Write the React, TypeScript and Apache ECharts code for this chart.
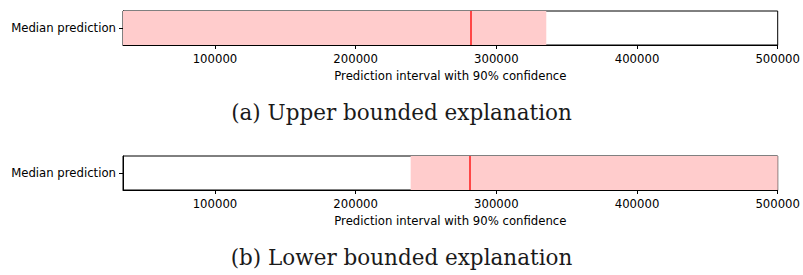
import React, { useEffect, useRef } from "react";
import * as echarts from "echarts";

const categories = ["Median prediction"];
const tickValues = [100000, 200000, 300000, 400000, 500000];
const axisMin = 34600;
const axisMax = 500000;
const axisName = "Prediction interval with 90% confidence";
// Upper bounded explanation: interval [low, high], median
const upperLow = [34600];
const upperHigh = [335500];
const upperMedian = 281500;
// Lower bounded explanation
const lowerLow = [239100];
const lowerHigh = [500000];
const lowerMedian = 281000;
const captions = ["(a) Upper bounded explanation", "(b) Lower bounded explanation"];

const FONT = "DejaVu Sans";
const FS = 11.7;

export default function App() {
  const ref = useRef<HTMLDivElement>(null);
  useEffect(() => {
    if (!ref.current) return;
    const chart = echarts.init(ref.current, null, { renderer: "svg" });
    const grids = [
      { left: 123, right: 24, top: 11, height: 34 },
      { left: 123, right: 24, top: 156, height: 34 },
    ];
    const xAxis = grids.map((_, i) => ({
      type: "value",
      gridIndex: i,
      min: axisMin,
      max: axisMax,
      name: axisName,
      nameLocation: "middle",
      nameGap: 25,
      nameTextStyle: { fontFamily: FONT, fontSize: FS, color: "#000" },
      axisLine: { show: true, onZero: false, lineStyle: { color: "#000", width: 1 } },
      axisTick: { show: true, length: 4, customValues: tickValues, lineStyle: { color: "#000" } },
      axisLabel: {
        customValues: tickValues,
        formatter: (v: number) => String(v),
        fontFamily: FONT,
        fontSize: FS,
        color: "#000",
        margin: 8,
      },
      splitLine: { show: false },
    }));
    const yAxis = grids.map((_, i) => ({
      type: "category",
      gridIndex: i,
      data: categories,
      axisLine: { show: true, lineStyle: { color: "#000", width: 1 } },
      axisTick: { show: true, length: 4, alignWithLabel: true, lineStyle: { color: "#000" } },
      axisLabel: { fontFamily: FONT, fontSize: FS, color: "#000", margin: 7 },
    }));
    const mk = (i: number, low: number[], high: number[], median: number) => [
      {
        type: "bar",
        xAxisIndex: i,
        yAxisIndex: i,
        stack: "s" + i,
        data: low,
        barWidth: "100%",
        itemStyle: { color: "transparent" },
        silent: true,
      },
      {
        type: "bar",
        xAxisIndex: i,
        yAxisIndex: i,
        stack: "s" + i,
        data: high.map((h, k) => h - low[k]),
        barWidth: "100%",
        itemStyle: { color: "#ffcccc" },
        markLine: {
          symbol: "none",
          silent: true,
          label: { show: false },
          lineStyle: { color: "#ff1a1a", width: 1.5, type: "solid" },
          data: [{ xAxis: median }],
        },
      },
    ];
    chart.setOption({
      animation: false,
      grid: grids.map((g) => ({ ...g, show: true, borderColor: "#000", borderWidth: 1, containLabel: false })),
      xAxis,
      yAxis,
      series: [
        ...mk(0, upperLow, upperHigh, upperMedian),
        ...mk(1, lowerLow, lowerHigh, lowerMedian),
      ],
      graphic: [
        {
          type: "text",
          left: "center",
          top: 101,
          style: { text: captions[0], font: '21.5px "DejaVu Serif"', fill: "#1a1a1a" },
        },
        {
          type: "text",
          left: "center",
          top: 246,
          style: { text: captions[1], font: '21.5px "DejaVu Serif"', fill: "#1a1a1a" },
        },
      ],
    });
    return () => chart.dispose();
  }, []);
  return (
    <div
      ref={ref}
      style={{ position: "absolute", left: 0, top: 0, width: 803, height: 275 }}
    />
  );
}
